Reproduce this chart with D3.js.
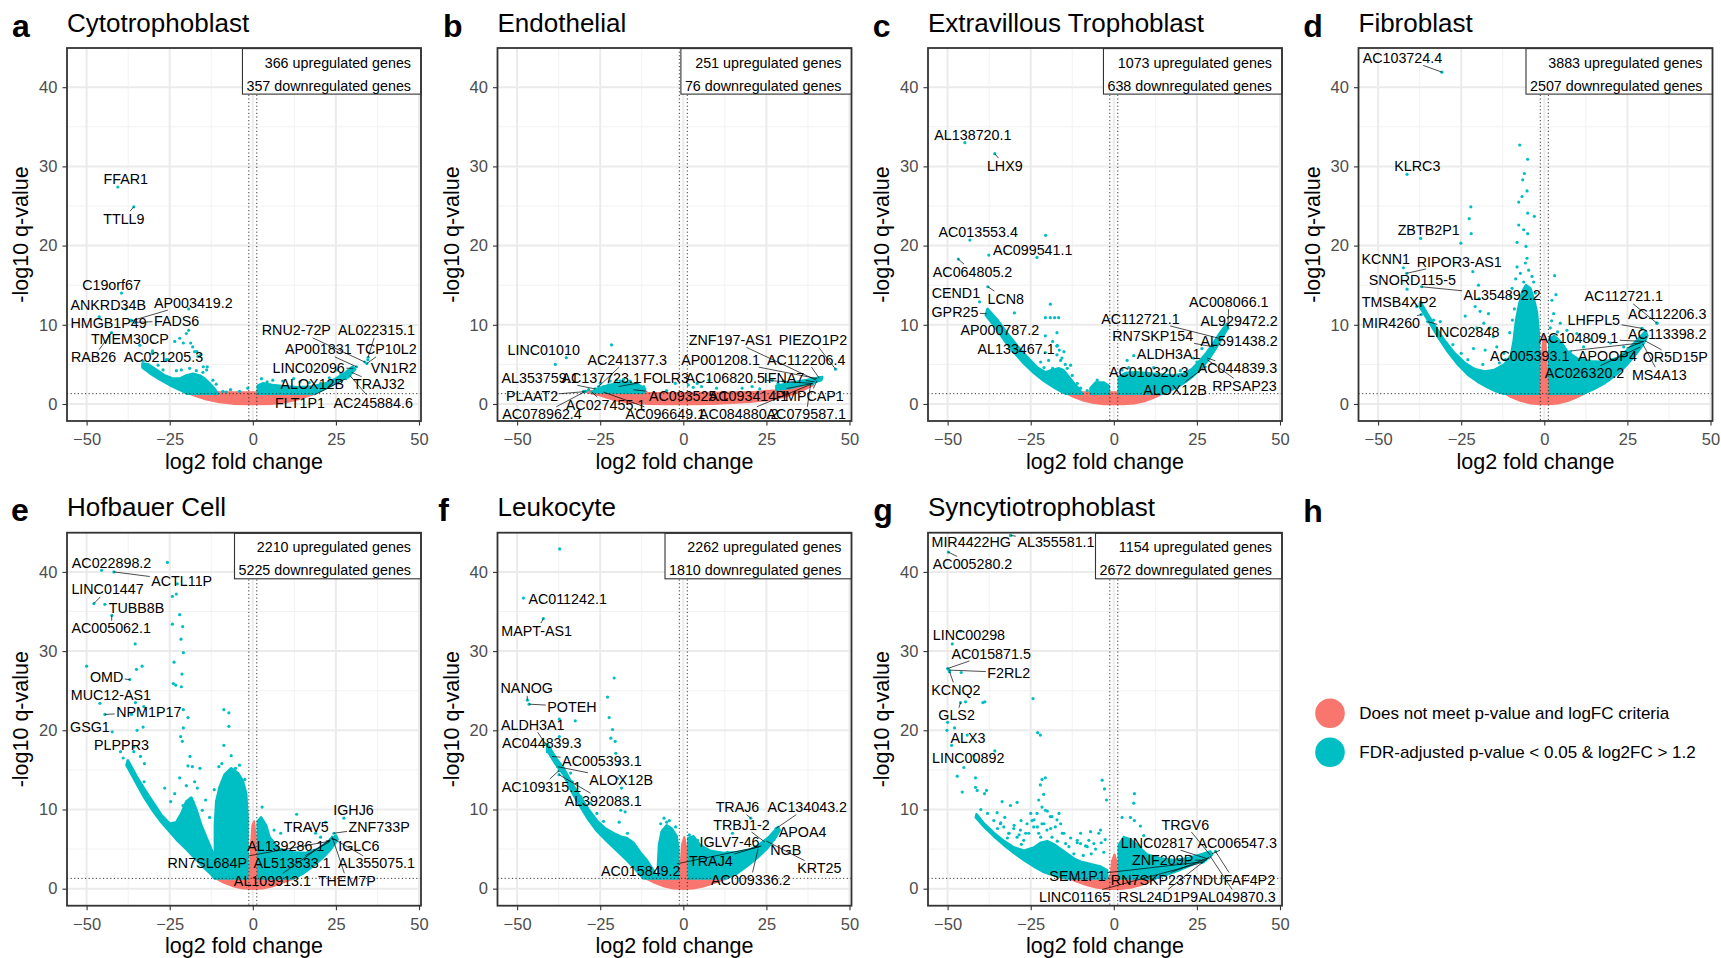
<!DOCTYPE html>
<html><head><meta charset="utf-8">
<script src="https://cdn.jsdelivr.net/npm/d3@7"></script>
<style>
html,body{margin:0;padding:0;background:#fff;}
svg{display:block;font-family:"Liberation Sans",Arial,Helvetica,sans-serif;}
</style></head><body>
<svg id="fig" width="1721" height="958"></svg>
<script>
// ---------- shared axes ----------
const xTicks = [-50, -25, 0, 25, 50];
const yTicks = [0, 10, 20, 30, 40];
const xMinor = [-37.5, -12.5, 12.5, 37.5];
const yMinor = [5, 15, 25, 35];
const xDomain = [-55.9, 50.6];
const yDomain = [-2.15, 44.95];
const fcCut = 1.2;     // |log2FC| threshold
const qCut = 1.301;    // -log10(0.05)

const tags = ["a", "b", "c", "d", "e", "f", "g"];
const cellTypes = ["Cytotrophoblast", "Endothelial", "Extravillous Trophoblast", "Fibroblast",
                   "Hofbauer Cell", "Leukocyte", "Syncytiotrophoblast"];
const upCounts = [366, 251, 1073, 3883, 2210, 2262, 1154];
const downCounts = [357, 76, 638, 2507, 5225, 1810, 2672];
const legendLabels = ["Does not meet p-value and logFC criteria",
                      "FDR-adjusted p-value < 0.05 & log2FC > 1.2"];

// ---------- a: Cytotrophoblast ----------
const aRed = [
  [[-19.8,1.45],[-17,1.0],[-14,0.6],[-10,0.25],[-6,0.05],[-2,0],[2,0],[6,0.05],[10,0.25],[14,0.65],[18.4,1.3],[18.4,1.45]]
];
const aDense = [
  [[-33.2,4.6],[-31,3.9],[-28,3.1],[-25,2.4],[-22,1.8],[-19.8,1.3],[-10.5,1.3],[-11.5,1.9],[-13,2.6],[-14.5,3.2],[-16,3.6],[-18,3.8],[-20,3.6],[-22,3.2],[-24,3.2],[-26.5,3.6],[-29,4.3],[-31.5,5.0],[-33.2,5.1]],
  [[1.5,1.3],[18.4,1.3],[21,1.8],[24,2.4],[27,3.1],[29.5,3.8],[30.8,4.4],[30,4.7],[28,4.0],[25,3.2],[22,2.6],[18,2.2],[14,2.1],[10,2.2],[6,2.4],[3,2.6],[1.5,2.3]]
];
const aPts = [[-19.3,12.0],[-19.3,9.3],[-20.0,8.9],[-22.0,8.3],[-23.5,7.9],[-20.9,7.7],[-18.7,7.7],[-18.1,7.2],[-17.5,6.6],[-16.5,6.0],[-26.0,5.6],[-31.0,4.7],[-27.0,4.3],[-14.9,4.7],[-13.9,4.3],[-30.3,6.4],[-25.5,5.6],[-16.8,6.6],[-15.7,6.2],[-13.7,4.7],[-36.6,10.6],[-21.5,4.3],[-19.0,4.5],[-17.0,4.2],[-15.0,4.0],[-12.0,3.0],[-11.0,2.5],[-9.0,1.6],[-8.0,1.5],[-6.7,1.8],[-4.0,1.6],[-1.5,2.0],[2.6,3.2],[4.3,2.8],[6.0,3.0],[9.0,2.9],[12.3,3.2],[14.2,2.8],[17.0,2.7],[20.4,2.6],[23.0,3.3],[25.4,4.3],[26.5,3.8],[-33.0,5.4],[-28.5,4.9],[-23.0,4.2]];
const aLabels = [
  ["FFAR1",-40.6,27.4,-38.2,28.4],["TTLL9",-35.8,24.9,-38.8,23.4],["C19orf67",-39.5,14.0,-42.5,15.1],
  ["ANKRD34B",-38.2,12.0,-43.5,12.5],["AP003419.2",-36.5,10.5,-17.9,12.8],["HMGB1P49",-46.2,11.0,-43.4,10.3],
  ["FADS6",-35.5,10.3,-22.9,10.5],["TMEM30CP",-34.0,7.4,-37.0,8.2],["RAB26",-42.5,9.0,-47.9,5.9],
  ["AC021205.3",-30.2,6.7,-26.9,5.9],["RNU2-72P",33.7,5.3,13.1,9.3],["AL022315.1",34.7,5.9,37.2,9.3],
  ["AP001831",31.2,4.7,19.7,6.9],["TCP10L2",34.3,5.1,40.2,6.9],["VN1R2",34.6,5.6,42.4,4.6],
  ["LINC02096",30.2,4.5,16.8,4.6],["ALOX12B",28.7,3.4,17.9,2.5],["TRAJ32",29.7,4.0,37.9,2.5],
  ["FLT1P1",28.0,3.2,14.2,0.2],["AC245884.6",29.2,3.6,36.2,0.2]
];

// ---------- b: Endothelial ----------
const bRed = [
  [[-29.9,1.6],[-25,1.1],[-21,0.55],[-16,0.2],[-11,0.05],[-5,0],[3,0],[9,0.05],[14,0.15],[20,0.3],[26,0.55],[31,1.0],[36,1.8],[39,2.4],[34,2.1],[28,1.7],[22,1.5],[14,1.4],[0,1.35],[-16,1.35],[-25,1.6]]
];
const bDense = [
  [[-27.5,1.5],[-12,1.4],[-11.5,1.9],[-13.5,2.4],[-17,2.7],[-20,2.6],[-23,2.3],[-26,1.9]],
  [[28,1.8],[33,2.1],[37,2.5],[41.5,3.0],[41.8,3.4],[38,3.1],[33,2.7],[28,2.3]]
];
const bPts = [[-38.5,5.0],[-21.6,7.45],[-30.0,1.6],[-28.5,1.8],[-25.0,2.6],[-24.0,2.2],[-22.0,2.9],[-20.0,3.0],[-19.0,2.9],[-18.0,3.1],[-16.0,2.9],[-14.0,2.6],[-12.9,1.55],[-11.9,2.2],[-5.0,1.7],[-2.4,2.6],[1.5,2.4],[3.0,2.1],[4.2,2.6],[5.5,2.2],[7.7,3.0],[10.0,2.0],[17.7,2.0],[20.7,2.2],[23.0,1.9],[26.7,3.0],[28.5,2.6],[30.0,2.9],[40.5,3.0],[41.3,3.2]];
const bLabels = [
  ["LINC01010",-35.2,5.85,-42.0,6.8],["AC241377.3",-25.5,2.2,-16.9,5.6],["AL353759.1",-26.5,1.9,-43.1,3.3],
  ["AC137723.1",-22.5,2.4,-24.7,3.3],["FOLR3",-19.5,2.2,-5.2,3.3],["AC106820.5",38.8,2.6,12.6,3.3],
  ["IFNA7",39.5,2.8,30.3,3.3],["ZNF197-AS1",40.0,3.0,14.2,8.1],["PIEZO1P2",45.8,4.4,39.0,8.1],
  ["AP001208.1",40.3,3.2,11.2,5.6],["AC112206.4",40.8,3.3,37.0,5.6],["PLAAT2",-29.9,1.55,-45.5,1.0],
  ["AC093525.1",-15.0,1.8,1.6,1.0],["AC093414.1",39.0,2.6,19.6,1.0],["PMPCAP1",40.2,2.9,38.0,1.0],
  ["AC027455.1",-27.5,1.5,-23.4,-0.1],["AC078962.4",-29.4,1.6,-42.5,-1.3],["AC096649.1",-24.0,1.5,-5.4,-1.3],
  ["AC084880.2",38.5,2.5,16.7,-1.3],["AC079587.1",38.3,2.5,37.0,-1.3]
];

// ---------- c: Extravillous Trophoblast ----------
const cRed = [
  [[-14.5,1.45],[-12,0.9],[-9,0.45],[-6,0.15],[-3,0],[3,0],[6,0.1],[9,0.35],[12,0.8],[14.5,1.3],[14.5,1.45]]
];
const cDense = [
  [[-38.5,11.2],[-36,9.9],[-33,8.1],[-30,6.5],[-27,5.1],[-24,3.9],[-21,2.9],[-18,2.1],[-15.5,1.5],[-14.5,1.3],[-9.5,1.3],[-10.5,1.9],[-12,2.6],[-13.5,3.4],[-15,4.2],[-16.5,4.5],[-18.5,4.3],[-20.5,4.0],[-23,4.6],[-26,5.9],[-29,7.3],[-32,8.9],[-35,10.6],[-38,12.0]],
  [[-7,1.3],[-1.5,1.3],[-1.5,2.3],[-3,2.7],[-5.5,2.7],[-7,2.0]],
  [[1.5,1.3],[14.5,1.3],[17.5,1.8],[20.5,2.5],[23.5,3.4],[26,4.4],[28.5,5.6],[30.5,6.9],[32.5,8.3],[34.3,9.6],[34,10.1],[32,9.0],[30,7.7],[28,6.5],[26,5.5],[23.5,4.4],[21,3.8],[18,3.6],[14,3.7],[10,3.9],[6.5,4.0],[3.5,3.9],[1.5,3.4]]
];
const cPts = [[-20.5,21.3],[-23.1,18.5],[-19.1,12.6],[-20.6,10.9],[-19.1,10.9],[-17.8,10.9],[-16.6,10.9],[-29.9,11.5],[-20.6,8.6],[-17.1,9.0],[-18.4,7.9],[-17.1,7.3],[-16.4,6.8],[-17.1,6.2],[-15.6,5.8],[-14.6,5.0],[-20.6,6.5],[-19.6,5.5],[-18.4,4.5],[-15.6,4.3],[-24.7,4.9],[-26.7,6.0],[-22.0,5.3],[-21.0,4.6],[-13.0,4.9],[-12.5,3.6],[-11.0,2.6],[-16.0,5.5],[-15.0,6.6],[-14.0,4.5],[-10.0,2.0],[-8.0,1.7],[-5.0,3.0],[2.5,4.3],[4.0,5.5],[4.5,4.6],[8.0,4.4],[12.0,4.6],[16.0,4.3],[20.0,4.2],[24.0,5.8],[25.0,5.3],[26.5,7.0]];
const cLabels = [
  ["AL138720.1",-44.8,33.0,-42.4,34.0],["LHX9",-35.8,31.6,-32.8,30.1],["AC013553.4",-43.3,20.7,-40.8,21.7],
  ["AC099541.1",-37.6,18.8,-24.4,19.4],["AC064805.2",-46.8,18.3,-42.5,16.7],["CEND1",-40.4,12.9,-47.5,14.0],
  ["LCN8",-37.9,14.8,-32.5,13.3],["GPR25",-38.3,11.4,-47.8,11.6],["AP000787.2",-32.5,8.3,-34.3,9.3],
  ["AL133467.1",-17.0,7.4,-29.4,6.9],["AC008066.1",34.3,9.55,34.6,12.9],["AC112721.1",31.6,8.3,8.0,10.8],
  ["AL929472.2",34.0,9.8,37.7,10.5],["RN7SKP154",30.1,7.2,11.7,8.6],["AL591438.2",29.6,7.0,37.7,8.0],
  ["ALDH3A1",6.0,6.1,16.5,6.3],["AC044839.3",28.1,5.8,37.2,4.5],["AC010320.3",22.6,3.9,10.5,4.0],
  ["RPSAP23",28.1,5.6,39.3,2.3],["ALOX12B",27.5,4.7,18.4,1.8]
];

// ---------- d: Fibroblast ----------
const dRed = [
  [[-12.2,1.45],[-10,0.9],[-7,0.4],[-4,0.1],[-1.5,0],[1.5,0],[4,0.1],[7,0.4],[10,0.9],[11.8,1.3],[11.8,1.45]],
  [[-1.0,1.3],[-0.8,5],[-0.5,7.5],[-0.1,8.6],[0.3,8.2],[0.6,6],[0.9,3.5],[1.0,1.3]]
];
const dDense = [
  [[-37.5,12.3],[-35,10.6],[-32,8.5],[-29,6.6],[-26,5.0],[-23,3.7],[-20,2.8],[-17,2.1],[-14.5,1.6],[-12.2,1.3],[-1.5,1.3],[-1.5,5],[-1.7,9],[-2.2,11.5],[-3.0,13],[-4.2,14.6],[-5.5,15.0],[-6.6,14.2],[-7.6,12.5],[-8.5,10.5],[-9.2,8],[-10,6.2],[-12,5.0],[-15,4.3],[-18,4.1],[-21,4.4],[-24,5.2],[-27,6.4],[-30,8.0],[-33,9.9],[-35.5,11.6],[-37.3,12.9]],
  [[1.5,1.3],[11.8,1.3],[15,1.9],[18,2.6],[21,3.5],[24,4.6],[27,6.0],[29.5,7.4],[31,8.6],[30.5,9.2],[28,8.1],[25,6.8],[22,5.8],[18,5.3],[14,5.4],[10,5.7],[7,6.6],[5,7.8],[3,8.6],[1.5,8.2]]
];
const dPts = [[-7.4,32.7],[-5.0,30.9],[-6.0,29.1],[-6.5,28.3],[-5.2,26.9],[-7.7,25.5],[-6.7,26.2],[-5.0,24.1],[-3.0,23.7],[-7.7,22.6],[-6.2,22.0],[-5.0,21.5],[-8.2,20.4],[-5.5,19.9],[-5.2,18.4],[-5.7,17.8],[-8.2,17.3],[-4.7,16.9],[-7.2,16.5],[-3.7,16.1],[-6.2,15.4],[3.1,16.2],[3.5,13.8],[2.3,13.1],[-9.7,14.6],[-10.2,13.6],[-2.7,14.0],[-22.1,24.9],[-22.6,23.4],[-22.0,21.5],[-25.1,20.3],[-21.5,16.7],[-19.8,15.0],[-19.6,13.3],[-20.8,12.3],[-16.8,11.4],[-19.3,11.7],[-23.8,11.1],[-18.2,10.2],[-20.3,9.6],[-16.3,9.6],[-10.4,9.0],[-15.3,8.5],[-21.3,7.0],[-17.8,6.8],[-14.3,7.2],[-25.0,6.4],[-23.0,5.6],[-12.2,6.4],[-11.7,5.6],[-33.3,10.6],[-31.3,10.4],[2.8,11.4],[4.8,10.2],[6.8,9.3],[9.8,8.9],[13.8,8.1],[16.8,8.5],[19.9,7.7],[23.9,7.2],[11.8,7.2],[7.8,6.6],[-13.5,5.2],[-18.5,5.0],[-27.5,7.5],[-9.0,12.0],[-9.6,10.6],[-8.6,15.8],[-3.2,15.4],[1.8,9.6],[2.2,10.5],[4.0,9.1]];
const dLabels = [
  ["AC103724.4",-30.8,41.9,-42.7,43.7],["KLRC3",-41.3,29.0,-38.2,30.1],["ZBTB2P1",-37.2,20.9,-34.8,22.0],
  ["KCNN1",-42.4,17.2,-47.7,18.3],["RIPOR3-AS1",-41.4,16.5,-25.6,18.0],["SNORD115-5",-41.3,14.5,-39.7,15.7],
  ["AL354892.2",-36.9,14.8,-12.7,13.8],["TMSB4XP2",-38.4,12.3,-43.7,12.9],["MIR4260",-37.0,11.3,-46.1,10.2],
  ["LINC02848",-35.1,10.4,-24.4,9.1],["AC112721.1",33.9,10.2,23.9,13.6],["AC112206.3",33.9,10.2,37.0,11.4],
  ["LHFPL5",29.4,9.55,14.9,10.6],["AC104809.1",29.9,7.9,10.3,8.3],["AC113398.2",29.2,8.3,37.0,8.8],
  ["AC005393.1",28.9,7.7,-4.4,6.1],["APOOP4",29.9,7.9,19.0,6.1],["OR5D15P",30.2,8.0,39.4,5.9],
  ["AC026320.2",28.9,7.2,12.1,3.9],["MS4A13",29.6,7.6,34.6,3.7]
];

// ---------- e: Hofbauer Cell ----------
const eRed = [
  [[-11.7,1.45],[-9,0.85],[-6,0.35],[-3,0.05],[0,0],[3,0.05],[6,0.35],[9,0.8],[12.4,1.3],[12.4,1.45]],
  [[-1.0,1.3],[-0.6,5],[-0.1,8],[0.4,8.5],[0.8,6.5],[1.0,1.3]]
];
const eDense = [
  [[-38,15.6],[-35,13.3],[-32.5,11.4],[-30,9.8],[-27.5,8.4],[-25,7.2],[-22.5,6.0],[-20,5.0],[-17.5,3.9],[-15,2.8],[-12.5,1.8],[-11.5,1.3],[-11.3,1.3],[-11.4,4],[-12.5,5],[-14,6.5],[-15.5,8],[-17,10],[-18.5,11.5],[-20,11],[-21.5,9.5],[-23,8.4],[-25,8.2],[-27.5,9.3],[-30,10.9],[-32.5,12.5],[-35,14.2],[-37.6,16.2]],
  [[-11.3,1.3],[-1.6,1.3],[-1.6,9],[-2,12],[-3,13.6],[-4.5,14.6],[-6.5,15.2],[-8.5,14.4],[-10,12.8],[-11,11],[-11.4,8],[-11.4,4]],
  [[1.5,1.3],[12.4,1.3],[15,1.9],[18,2.8],[21,3.9],[23.5,5.0],[25.5,6.2],[25,6.7],[22.5,5.9],[19.5,5.0],[16,4.5],[12,4.6],[8,5],[5,6.5],[4,8],[2.5,9],[1.5,8.5]]
];
const ePts = [[-25.7,41.2],[-22.7,38.5],[-24.2,36.9],[-23.0,37.2],[-22.0,34.6],[-24.2,33.4],[-21.1,33.1],[-35.4,30.9],[-21.6,31.5],[-20.9,29.8],[-23.7,28.6],[-33.3,28.1],[-35.0,27.7],[-50.0,28.1],[-21.3,27.1],[-23.9,25.9],[-23.2,25.7],[-21.5,25.5],[-35.3,23.5],[-32.8,23.0],[-20.9,22.6],[-19.5,21.6],[-33.0,20.4],[-34.8,20.0],[-20.9,20.3],[-21.7,19.2],[-21.2,18.6],[-35.8,17.9],[-33.8,16.7],[-32.6,15.8],[-35.8,17.3],[-18.9,16.7],[-18.2,15.4],[-15.9,15.2],[-19.5,15.5],[-32.7,13.5],[-26.5,12.7],[-23.5,12.0],[-16.7,12.7],[-14.2,11.2],[-15.2,9.9],[-24.7,11.0],[-8.7,22.6],[-7.2,22.2],[-7.2,20.5],[-8.7,18.1],[-10.2,15.4],[-5.2,15.2],[-6.5,16.8],[2.8,10.3],[13.2,9.4],[17.4,7.6],[18.9,7.0],[20.4,6.5],[6.4,7.4],[8.4,7.0],[-22.0,14.0],[-20.0,13.0],[-17.5,13.5],[-21.0,10.5],[-18.0,11.0],[-13.0,9.0],[-36.5,22.0],[-39.0,16.5],[-9.3,15.8],[-4.0,15.6],[-2.4,13.8],[-11.6,12.5]];
const eLabels = [
  ["AC022898.2",-45.5,40.2,-42.5,41.2],["ACTL11P",-41.8,40.0,-21.4,38.9],["LINC01447",-47.8,36.0,-43.7,37.8],
  ["TUBB8B",-44.5,35.9,-35.0,35.4],["AC005062.1",-42.4,34.5,-42.6,32.9],["OMD",-37.0,26.4,-44.0,26.7],
  ["MUC12-AS1",-46.0,23.4,-42.7,24.5],["NPM1P17",-44.5,22.0,-31.3,22.3],["GSG1",-42.3,19.8,-49.0,20.4],
  ["PLPPR3",-39.8,17.3,-39.5,18.1],["IGHJ6",27.4,8.9,30.3,10.0],["TRAV5",21.9,8.4,16.1,7.8],
  ["ZNF733P",24.4,7.0,38.0,7.8],["AL139286.1",23.4,6.1,9.9,5.4],["IGLC6",23.6,6.3,31.9,5.4],
  ["RN7SL684P",23.2,6.0,-13.7,3.2],["AL513533.1",23.0,5.9,11.8,3.2],["AL355075.1",23.8,6.4,37.2,3.2],
  ["AL109913.1",23.3,6.2,5.9,1.0],["THEM7P",23.9,6.5,28.3,1.0]
];

// ---------- f: Leukocyte ----------
const fRed = [
  [[-12,1.45],[-9,0.85],[-6,0.35],[-3,0.05],[0,0],[3,0.05],[6,0.3],[9,0.7],[13,1.3],[13,1.45]],
  [[-1.0,1.3],[-0.4,5.5],[0.3,6.5],[0.9,5],[1.0,1.3]]
];
const fDense = [
  [[-41,17.5],[-38.5,15.8],[-36,14.4],[-33.5,12.2],[-31,10.4],[-28.5,8.7],[-26,7.3],[-23,6.0],[-20,4.8],[-17,3.6],[-14.5,2.5],[-12,1.3],[-7.5,1.3],[-9,2.3],[-11,3.6],[-13,4.6],[-15,5.8],[-17,6.4],[-19,6.6],[-21,7.0],[-23.5,7.6],[-26,8.6],[-28.5,10.0],[-31,11.6],[-33.5,13.3],[-36,15.2],[-38.5,16.6],[-40.8,18.2]],
  [[-7.5,1.3],[-1.5,1.3],[-1.5,5],[-2,6.6],[-3.5,7.6],[-5,8.0],[-6.5,7.2],[-7.3,5.5],[-7.6,3]],
  [[1.5,1.3],[13,1.3],[16,1.9],[19,2.8],[22,3.8],[25,5.0],[27.5,6.3],[29,7.4],[28.5,7.8],[26,6.6],[23,5.6],[20,4.9],[16,4.6],[12,4.5],[8,4.8],[5,5.5],[3,6.6],[1.5,6.4]]
];
const fPts = [[-37.2,42.9],[-20.8,26.6],[-22.8,24.2],[-22.3,21.6],[-32.5,21.2],[-37.3,21.4],[-21.3,20.1],[-21.8,19.0],[-20.5,18.6],[-37.3,19.2],[-20.3,17.1],[-19.3,15.8],[-19.8,13.9],[-18.6,12.7],[-33.9,14.6],[-33.4,13.5],[-30.8,11.6],[-17.8,11.2],[-18.8,9.9],[-17.5,9.7],[-19.3,8.4],[-22.8,7.0],[-21.8,6.1],[-20.5,6.6],[-16.8,7.0],[-18.3,6.1],[-13.3,4.5],[-5.8,8.9],[-5.0,8.4],[-2.3,7.8],[1.8,6.8],[3.1,6.5],[4.3,6.1],[13.3,4.6],[14.8,7.0],[-26.0,9.5],[-24.0,8.5],[-28.0,10.8],[-6.8,8.2],[-4.2,8.6]];
const fLabels = [
  ["AC011242.1",-48.1,36.7,-34.8,36.6],["MAPT-AS1",-42.1,34.1,-44.1,32.6],["NANOG",-46.9,23.8,-47.1,25.3],
  ["POTEH",-46.4,23.3,-33.5,23.0],["ALDH3A1",-41.5,18.3,-45.3,20.7],["AC044839.3",-40.9,17.3,-42.6,18.4],
  ["AC005393.1",-39.5,16.7,-24.5,16.1],["ALOX12B",-37.8,15.4,-18.7,13.8],["AC109315.1",-37.4,14.9,-42.7,12.9],
  ["AL392083.1",-37.4,14.4,-24.1,11.1],["TRAJ6",20.3,8.9,16.3,10.3],["AC134043.2",27.9,7.6,37.3,10.3],
  ["TRBJ1-2",24.5,5.9,17.5,8.1],["APOA4",28.3,7.0,35.9,7.2],["IGLV7-46",24.0,5.6,13.9,5.9],
  ["NGB",24.8,5.7,30.8,4.9],["KRT25",25.0,6.0,40.9,2.6],["TRAJ4",23.5,5.4,8.3,3.5],
  ["AC015849.2",23.0,5.3,-12.8,2.2],["AC009336.2",22.5,5.0,20.3,1.1]
];

// ---------- g: Syncytiotrophoblast ----------
const gRed = [
  [[-14,1.45],[-11,0.9],[-8,0.45],[-5,0.15],[-2,0],[2,0],[5,0.15],[8,0.45],[10.5,0.9],[12.5,1.3],[12.5,1.45]],
  [[-1.0,1.3],[-0.5,3.5],[0.2,4.3],[0.9,3.2],[1.0,1.3]]
];
const gDense = [
  [[-41.5,9.0],[-39,7.8],[-36,6.6],[-33,5.5],[-30,4.5],[-27,3.6],[-24,2.8],[-21,2.1],[-17.5,1.6],[-14,1.3],[-2,1.3],[-2,2.3],[-4,2.8],[-6,3.0],[-8,3.2],[-10,3.4],[-12,3.8],[-14,4.4],[-16,5.0],[-18,5.6],[-20,6.0],[-22,5.8],[-24,5.2],[-27,4.8],[-30,5.2],[-33,6.0],[-36,7.0],[-39,8.2],[-41.3,9.4]],
  [[1.5,1.3],[12.5,1.3],[16,1.8],[20,2.4],[24,3.1],[27,3.7],[29.5,4.3],[29,4.7],[26,4.3],[22,3.8],[18,3.6],[14,3.8],[10,4.3],[7,5.5],[5,6.2],[3,6.5],[1.5,5.5]]
];
const gPts = [[-46.1,32.5],[-45.9,27.3],[-44.6,23.6],[-39.4,23.5],[-38.8,23.6],[-47.9,20.3],[-50.2,20.0],[-50.0,21.0],[-48.8,18.1],[-35.8,17.4],[-42.1,16.8],[-45.1,15.3],[-47.1,14.2],[-41.6,14.0],[-41.6,12.8],[-41.1,12.4],[-45.6,12.2],[-38.9,12.0],[-38.3,12.4],[-24.3,24.0],[-22.9,19.7],[-22.1,19.4],[-20.6,14.0],[-21.6,13.8],[-22.1,13.1],[-21.1,11.9],[-22.6,11.2],[-21.6,10.3],[-20.0,9.8],[-33.6,11.0],[-31.1,10.5],[-29.1,10.9],[-35.1,9.6],[-32.8,9.0],[-27.9,8.6],[-18.6,9.1],[-17.1,8.7],[-16.0,8.2],[-3.5,13.7],[-2.8,12.6],[-2.2,11.2],[6.2,12.0],[6.0,10.8],[2.5,9.0],[5.0,9.0],[6.2,8.6],[8.0,7.9],[9.0,6.7],[-7.0,7.2],[-4.0,7.4],[-7.5,6.1],[-10.0,5.7],[-25.0,9.5],[-24.0,8.7],[-30.0,8.0],[-34.0,8.3],[-38.0,9.5],[-40.0,10.0],[-21.0,8.2],[-19.0,7.6],[-23.0,7.8],[-26.5,7.0],[-28.5,6.8],[-31.5,7.0],[-13.0,6.4],[-15.0,7.0],[-11.0,5.8],[-5.5,5.0],[-3.0,4.6],[-8.5,5.4],
  [-40.1,8.6],[-38.3,7.6],[-37.1,7.4],[-36.1,8.6],[-34.1,8.2],[-33.1,7.8],[-31.6,7.0],[-30.1,7.6],[-29.1,6.5],[-28.1,7.4],[-27.1,6.1],[-26.1,8.2],[-25.6,7.0],[-24.6,8.6],[-24.1,7.8],[-23.1,9.5],[-22.6,7.0],[-21.6,8.2],[-20.6,9.9],[-20.1,7.4],[-19.1,9.1],[-18.6,6.5],[-17.6,7.8],[-16.5,9.5],[-15.5,7.0],[-14.5,5.7],[-13.5,5.3],[-12.0,4.4],[-11.0,6.1],[-10.0,7.0],[-8.0,5.3],[-6.0,5.7],[-4.5,7.0],[-2.6,6.2],[-3.8,5.8],[-6.8,4.4],[-9.2,4.2],[-17.0,6.0],[-22.0,6.5],[-27.8,5.6],[-32.0,6.4],[-35.0,7.6]];
const gLabels = [
  ["MIR4422HG",-31.0,44.6,-42.9,43.8],["AL355581.1",-31.0,44.6,-17.4,43.8],["AC005280.2",-49.8,42.5,-42.5,41.0],
  ["LINC00298",-48.6,30.9,-43.6,32.0],["AC015871.5",-50.0,27.8,-36.9,29.7],["F2RL2",-49.6,27.6,-31.6,27.3],
  ["KCNQ2",-49.4,27.4,-47.5,25.1],["GLS2",-46.1,23.5,-47.3,21.9],["ALX3",-44.1,19.4,-43.9,19.1],
  ["LINC00892",-41.6,16.2,-43.8,16.5],["TRGV6",29.1,4.2,21.5,8.1],["LINC02817",28.0,3.8,13.0,5.8],
  ["AC006547.3",29.5,4.4,37.1,5.8],["ZNF209P",27.6,3.6,14.7,3.6],["SEM1P1",27.0,3.4,-10.9,1.6],
  ["RN7SKP237",28.5,3.9,11.3,1.1],["NDUFAF4P2",30.6,4.7,36.1,1.1],["LINC01165",26.5,3.3,-11.8,-1.05],
  ["RSL24D1P9",28.8,4.0,13.4,-1.05],["AL049870.3",29.0,4.1,37.1,-1.05]
];

const redSets = [aRed, bRed, cRed, dRed, eRed, fRed, gRed];
const denseSets = [aDense, bDense, cDense, dDense, eDense, fDense, gDense];
const pointSets = [aPts, bPts, cPts, dPts, ePts, fPts, gPts];
const labelSets = [aLabels, bLabels, cLabels, dLabels, eLabels, fLabels, gLabels];

// ---------- drawing ----------
const RED = "#F8766D", TEAL = "#00BFC4";
const W = 354, H = 373;
const lefts = [67, 497.5, 928, 1358.5];
const tops = [48, 532.7];
const tagX = [12, 443, 872.7, 1303.3, 11, 438.3, 873.3];

const svg = d3.select("#fig");
svg.append("rect").attr("width", 1721).attr("height", 958).attr("fill", "#fff");

const x = d3.scaleLinear().domain(xDomain).range([0, W]);
const y = d3.scaleLinear().domain(yDomain).range([H, 0]);
const area = d3.line().x(d => x(d[0])).y(d => y(d[1])).curve(d3.curveLinearClosed);

cellTypes.forEach((name, i) => {
  const col = i % 4, row = Math.floor(i / 4);
  const L = lefts[col], T = tops[row];

  svg.append("text").attr("x", tagX[i]).attr("y", T - 11.3)
    .attr("font-size", 32).attr("font-weight", "bold").attr("fill", "#000").text(tags[i]);
  svg.append("text").attr("x", L).attr("y", T - 16.5)
    .attr("font-size", 26).attr("fill", "#000").text(name);

  const g = svg.append("g").attr("transform", `translate(${L},${T})`);
  const clipId = "clip" + i;
  g.append("clipPath").attr("id", clipId).append("rect").attr("width", W).attr("height", H);

  // grid
  const grid = g.append("g");
  grid.selectAll(".vx").data(xMinor).join("line")
    .attr("x1", d => x(d)).attr("x2", d => x(d)).attr("y1", 0).attr("y2", H)
    .attr("stroke", "#F2F2F2").attr("stroke-width", 1);
  grid.selectAll(".hy").data(yMinor).join("line")
    .attr("y1", d => y(d)).attr("y2", d => y(d)).attr("x1", 0).attr("x2", W)
    .attr("stroke", "#F2F2F2").attr("stroke-width", 1);
  grid.selectAll(".VX").data(xTicks).join("line")
    .attr("x1", d => x(d)).attr("x2", d => x(d)).attr("y1", 0).attr("y2", H)
    .attr("stroke", "#EBEBEB").attr("stroke-width", 2);
  grid.selectAll(".HY").data(yTicks).join("line")
    .attr("y1", d => y(d)).attr("y2", d => y(d)).attr("x1", 0).attr("x2", W)
    .attr("stroke", "#EBEBEB").attr("stroke-width", 2);

  // genes
  const marks = g.append("g").attr("clip-path", `url(#${clipId})`);
  marks.selectAll(".rz").data(redSets[i].slice(0, 1)).join("path")
    .attr("d", d => area(d)).attr("fill", RED).attr("stroke", RED)
    .attr("stroke-width", 2.6).attr("stroke-linejoin", "round");
  marks.selectAll(".tz").data(denseSets[i]).join("path")
    .attr("d", d => area(d)).attr("fill", TEAL).attr("stroke", TEAL)
    .attr("stroke-width", 2.6).attr("stroke-linejoin", "round");
  marks.selectAll(".rs").data(redSets[i].slice(1)).join("path")
    .attr("d", d => area(d)).attr("fill", RED).attr("stroke", RED)
    .attr("stroke-width", 2.2).attr("stroke-linejoin", "round");
  const geneDots = pointSets[i].concat(labelSets[i].map(d => [d[1], d[2]]));
  marks.selectAll(".pt").data(geneDots).join("circle")
    .attr("cx", d => x(d[0])).attr("cy", d => y(d[1])).attr("r", 1.6).attr("fill", TEAL);

  // cut-off lines
  const cut = g.append("g").attr("stroke", "#222").attr("stroke-width", 0.9)
    .attr("stroke-dasharray", "1.2,2.4");
  [-fcCut, fcCut].forEach(v => cut.append("line")
    .attr("x1", x(v)).attr("x2", x(v)).attr("y1", 0).attr("y2", H));
  cut.append("line").attr("x1", 0).attr("x2", W).attr("y1", y(qCut)).attr("y2", y(qCut));

  // counts box
  const box = g.append("g");
  const rect = box.append("rect");
  const t1 = box.append("text").attr("x", W - 10).attr("y", 19.7).attr("text-anchor", "end")
    .attr("font-size", 14.3).attr("fill", "#000").text(`${upCounts[i]} upregulated genes`);
  const t2 = box.append("text").attr("x", W - 10).attr("y", 42.6).attr("text-anchor", "end")
    .attr("font-size", 14.3).attr("fill", "#000").text(`${downCounts[i]} downregulated genes`);
  const tw = Math.max(t1.node().getComputedTextLength(), t2.node().getComputedTextLength());
  const bx = W - 10 - tw - 4;
  rect.attr("x", bx).attr("y", 0.6).attr("width", W - bx).attr("height", 45.5)
    .attr("fill", "#fff").attr("stroke", "#333").attr("stroke-width", 1.1);

  // gene labels with leader segments
  const lab = g.append("g");
  const segs = lab.append("g");
  labelSets[i].forEach(d => {
    const [gene, px, py, lx, ly] = d;
    const cx = x(lx), cy = y(ly), X = x(px), Y = y(py);
    const t = lab.append("text").attr("x", cx).attr("y", cy).attr("dy", "0.36em")
      .attr("text-anchor", "middle").attr("font-size", 14.3).attr("fill", "#000").text(gene);
    const hw = t.node().getComputedTextLength() / 2 + 1.5, hh = 7.5;
    const dx = X - cx, dy = Y - cy;
    if (Math.abs(dx) <= hw && Math.abs(dy) <= hh) return;
    const s = Math.min(hw / Math.max(Math.abs(dx), 1e-6), hh / Math.max(Math.abs(dy), 1e-6));
    const ex = cx + dx * s, ey = cy + dy * s;
    if (Math.hypot(X - ex, Y - ey) < 4) return;
    segs.append("line").attr("x1", ex).attr("y1", ey).attr("x2", X).attr("y2", Y)
      .attr("stroke", "#000").attr("stroke-width", 0.7);
  });

  // frame
  g.append("rect").attr("width", W).attr("height", H).attr("fill", "none")
    .attr("stroke", "#333").attr("stroke-width", 1.8);

  // axes
  const ax = g.append("g").attr("transform", `translate(0,${H})`)
    .call(d3.axisBottom(x).tickValues(xTicks).tickSize(4.5).tickPadding(7.6));
  const ay = g.append("g")
    .call(d3.axisLeft(y).tickValues(yTicks).tickSize(4.5).tickPadding(5.2));
  [ax, ay].forEach(a => {
    a.select(".domain").remove();
    a.selectAll(".tick line").attr("stroke", "#333").attr("stroke-width", 1.1);
    a.selectAll(".tick text").attr("fill", "#4D4D4D").attr("font-size", 16.5)
      .attr("font-family", '"Liberation Sans",Arial,sans-serif');
  });

  g.append("text").attr("x", W / 2).attr("y", H + 47.5).attr("text-anchor", "middle")
    .attr("font-size", 21.5).attr("fill", "#000").text("log2 fold change");
  g.append("text").attr("transform", `translate(-39,${H / 2}) rotate(-90)`)
    .attr("text-anchor", "middle").attr("font-size", 21.5).attr("fill", "#000").text("-log10 q-value");
});

// panel h: legend
svg.append("text").attr("x", 1303.3).attr("y", 521.7).attr("font-size", 32)
  .attr("font-weight", "bold").attr("fill", "#000").text("h");
const legend = svg.append("g").attr("transform", "translate(1330,713.3)");
[RED, TEAL].forEach((c, k) => {
  legend.append("circle").attr("cx", 0).attr("cy", k * 39).attr("r", 14.8).attr("fill", c);
  legend.append("text").attr("x", 29.3).attr("y", k * 39).attr("dy", "0.36em")
    .attr("font-size", 17).attr("fill", "#000").text(legendLabels[k]);
});
</script></body></html>
